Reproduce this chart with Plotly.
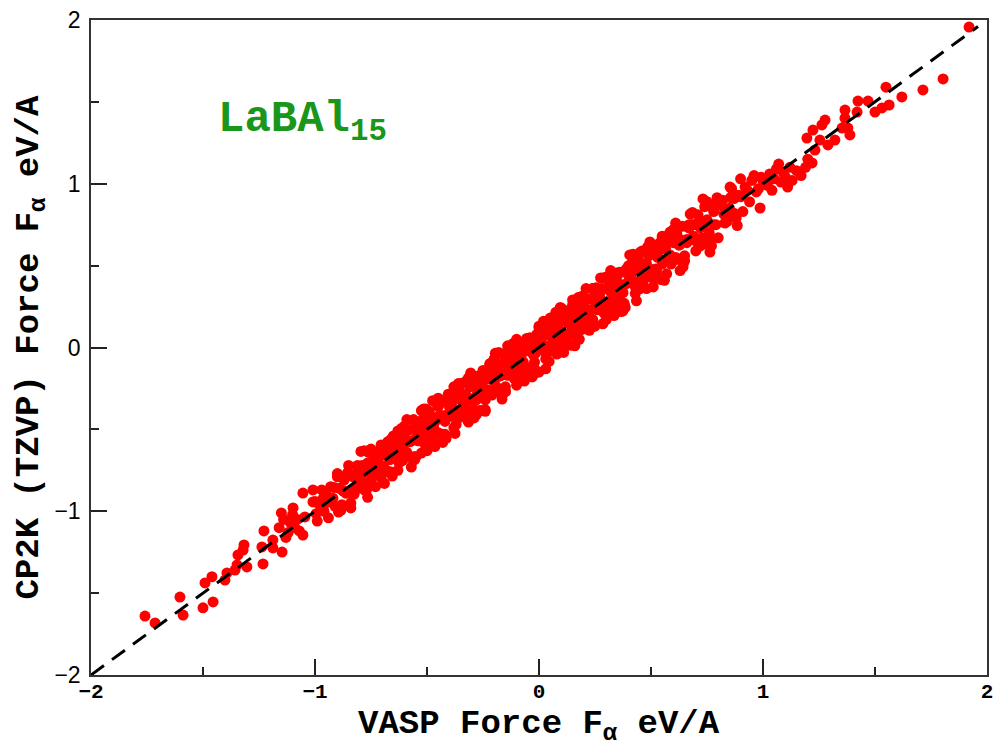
import plotly.graph_objects as go

# lower tail, VASP vs CP2K forces (eV/A)
vasp_low = [-1.759, -1.714, -1.603, -1.589, -1.500, -1.455, -1.491, -1.460, -1.402, -1.393,
            -1.357, -1.348, -1.304, -1.344, -1.321, -1.317, -1.237, -1.232, -1.228, -1.188,
            -1.188, -1.147, -1.098, -1.054, -1.054, -1.009, -1.009, -1.045, -1.16, -1.14,
            -1.12, -1.11, -1.10, -1.13, -1.09, -1.08, -1.15, -1.07]
cp2k_low = [-1.640, -1.682, -1.524, -1.634, -1.590, -1.554, -1.438, -1.400, -1.420, -1.377,
            -1.359, -1.328, -1.340, -1.267, -1.237, -1.206, -1.218, -1.322, -1.120, -1.224,
            -1.176, -1.249, -0.980, -1.145, -0.889, -0.870, -0.943, -1.035, -1.10, -1.05,
            -1.13, -1.07, -1.02, -1.16, -1.10, -1.05, -1.01, -1.12]

# -1.0 .. -0.6
vasp_a = [-1.00, -0.99, -0.98, -0.97, -0.96, -0.95, -0.94, -0.93, -0.92, -0.91,
          -0.90, -0.89, -0.88, -0.87, -0.86, -0.85, -0.84, -0.83, -0.82, -0.81,
          -0.80, -0.79, -0.78, -0.77, -0.76, -0.75, -0.74, -0.73, -0.72, -0.71,
          -0.70, -0.69, -0.68, -0.67, -0.66, -0.65, -0.64, -0.63, -0.62, -0.61,
          -0.995, -0.965, -0.945, -0.915, -0.895, -0.875, -0.845, -0.825, -0.805, -0.785,
          -0.765, -0.745, -0.725, -0.705, -0.685, -0.665, -0.645, -0.625, -0.605]
cp2k_a = [-0.94, -1.06, -0.96, -0.87, -1.00, -0.90, -1.04, -0.85, -0.92, -0.97,
          -0.79, -0.86, -0.96, -0.81, -0.89, -0.72, -0.95, -0.79, -0.87, -0.72,
          -0.82, -0.72, -0.87, -0.76, -0.64, -0.81, -0.69, -0.85, -0.69, -0.75,
          -0.60, -0.76, -0.66, -0.59, -0.76, -0.61, -0.67, -0.51, -0.68, -0.55,
          -1.015, -0.925, -0.945, -0.855, -1.005, -0.875, -0.775, -0.895, -0.775, -0.825,
          -0.705, -0.755, -0.645, -0.795, -0.635, -0.685, -0.555, -0.705, -0.595]

# dense core -0.6 .. 0.6
vasp_b = [-0.60, -0.58, -0.56, -0.54, -0.52, -0.50, -0.48, -0.46, -0.44, -0.42,
          -0.40, -0.38, -0.36, -0.34, -0.32, -0.30, -0.28, -0.26, -0.24, -0.22,
          -0.20, -0.18, -0.16, -0.14, -0.12, -0.10, -0.08, -0.06, -0.04, -0.02,
          0.00, 0.02, 0.04, 0.06, 0.08, 0.10, 0.12, 0.14, 0.16, 0.18,
          0.20, 0.22, 0.24, 0.26, 0.28, 0.30, 0.32, 0.34, 0.36, 0.38,
          0.40, 0.42, 0.44, 0.46, 0.48, 0.50, 0.52, 0.54, 0.56, 0.58,
          -0.59, -0.57, -0.55, -0.53, -0.51, -0.49, -0.47, -0.45, -0.43, -0.41,
          -0.39, -0.37, -0.35, -0.33, -0.31, -0.29, -0.27, -0.25, -0.23, -0.21,
          -0.19, -0.17, -0.15, -0.13, -0.11, -0.09, -0.07, -0.05, -0.03, -0.01,
          0.01, 0.03, 0.05, 0.07, 0.09, 0.11, 0.13, 0.15, 0.17, 0.19,
          0.21, 0.23, 0.25, 0.27, 0.29, 0.31, 0.33, 0.35, 0.37, 0.39,
          0.41, 0.43, 0.45, 0.47, 0.49, 0.51, 0.53, 0.55, 0.57, 0.59,
          -0.505, -0.465, -0.425, -0.385, -0.345, -0.305, -0.265, -0.225, -0.185, -0.145,
          -0.105, -0.065, -0.025, 0.015, 0.055, 0.095, 0.135, 0.175, 0.215, 0.255,
          0.295, 0.335, 0.375, 0.415, 0.455, 0.495]
cp2k_b = [-0.55, -0.67, -0.44, -0.57, -0.44, -0.63, -0.46, -0.52, -0.34, -0.53,
          -0.36, -0.24, -0.43, -0.33, -0.44, -0.21, -0.32, -0.20, -0.39, -0.11,
          -0.15, -0.27, -0.04, -0.17, -0.04, -0.23, -0.06, -0.12, 0.06, -0.13,
          0.04, 0.16, -0.03, 0.07, -0.04, 0.19, 0.08, 0.20, 0.01, 0.29,
          0.25, 0.13, 0.36, 0.23, 0.36, 0.17, 0.34, 0.28, 0.46, 0.27,
          0.44, 0.56, 0.37, 0.47, 0.36, 0.59, 0.48, 0.60, 0.41, 0.69,
          -0.64, -0.50, -0.56, -0.50, -0.59, -0.43, -0.49, -0.36, -0.53, -0.41,
          -0.34, -0.43, -0.32, -0.36, -0.24, -0.38, -0.25, -0.29, -0.15, -0.28,
          -0.24, -0.10, -0.16, -0.10, -0.19, -0.03, -0.09, 0.04, -0.13, -0.01,
          0.06, -0.03, 0.08, 0.04, 0.16, 0.02, 0.15, 0.11, 0.25, 0.12,
          0.16, 0.30, 0.24, 0.30, 0.21, 0.37, 0.31, 0.44, 0.27, 0.39,
          0.46, 0.37, 0.48, 0.44, 0.56, 0.42, 0.55, 0.51, 0.65, 0.52,
          -0.375, -0.605, -0.425, -0.285, -0.395, -0.155, -0.385, -0.185, -0.265, -0.035,
          0.025, -0.205, -0.025, 0.115, 0.005, 0.245, 0.015, 0.215, 0.135, 0.365,
          0.425, 0.195, 0.375, 0.515, 0.405, 0.645]

# more of the band -0.9 .. 0.9
vasp_d = [-0.90, -0.87, -0.84, -0.81, -0.78, -0.75, -0.72, -0.69, -0.66, -0.63,
          -0.60, -0.57, -0.54, -0.51, -0.48, -0.45, -0.42, -0.39, -0.36, -0.33,
          -0.30, -0.27, -0.24, -0.21, -0.18, -0.15, -0.12, -0.09, -0.06, -0.03,
          0.00, 0.03, 0.06, 0.09, 0.12, 0.15, 0.18, 0.21, 0.24, 0.27,
          0.30, 0.33, 0.36, 0.39, 0.42, 0.45, 0.48, 0.51, 0.54, 0.57,
          0.60, 0.63, 0.66, 0.69, 0.72, 0.75, 0.78, 0.81, 0.84, 0.87, 0.90,
          -0.885, -0.855, -0.825, -0.795, -0.765, -0.735, -0.705, -0.675, -0.645, -0.615,
          -0.585, -0.555, -0.525, -0.495, -0.465, -0.435, -0.405, -0.375, -0.345, -0.315,
          -0.285, -0.255, -0.225, -0.195, -0.165, -0.135, -0.105, -0.075, -0.045, -0.015,
          0.015, 0.045, 0.075, 0.105, 0.135, 0.165, 0.195, 0.225, 0.255, 0.285,
          0.315, 0.345, 0.375, 0.405, 0.435, 0.465, 0.495, 0.525, 0.555, 0.585,
          0.615, 0.645, 0.675, 0.705, 0.735, 0.765, 0.795, 0.825, 0.855, 0.885]
cp2k_d = [-0.77, -0.88, -0.98, -0.74, -0.63, -0.84, -0.69, -0.74, -0.56, -0.75,
          -0.48, -0.73, -0.54, -0.45, -0.58, -0.31, -0.45, -0.31, -0.43, -0.29,
          -0.17, -0.28, -0.38, -0.14, -0.03, -0.24, -0.09, -0.14, 0.04, -0.15,
          0.12, -0.13, 0.06, 0.15, 0.02, 0.29, 0.15, 0.29, 0.17, 0.31,
          0.43, 0.32, 0.22, 0.46, 0.57, 0.36, 0.51, 0.46, 0.64, 0.45,
          0.72, 0.47, 0.66, 0.75, 0.62, 0.89, 0.75, 0.89, 0.77, 0.91, 1.03,
          -0.995, -0.765, -0.865, -0.635, -0.915, -0.715, -0.595, -0.755, -0.595, -0.635,
          -0.505, -0.685, -0.385, -0.555, -0.455, -0.535, -0.285, -0.385, -0.285, -0.455,
          -0.395, -0.165, -0.265, -0.035, -0.315, -0.115, 0.005, -0.155, 0.005, -0.035,
          0.095, -0.085, 0.215, 0.045, 0.145, 0.065, 0.315, 0.215, 0.315, 0.145,
          0.205, 0.435, 0.335, 0.565, 0.285, 0.485, 0.605, 0.445, 0.605, 0.565,
          0.695, 0.515, 0.815, 0.645, 0.745, 0.665, 0.915, 0.815, 0.915, 0.745]

# densest part -0.55 .. 0.55
vasp_e = [-0.550, -0.525, -0.500, -0.475, -0.450, -0.425, -0.400, -0.375, -0.350, -0.325,
          -0.300, -0.275, -0.250, -0.225, -0.200, -0.175, -0.150, -0.125, -0.100, -0.075,
          -0.050, -0.025, 0.000, 0.025, 0.050, 0.075, 0.100, 0.125, 0.150, 0.175,
          0.200, 0.225, 0.250, 0.275, 0.300, 0.325, 0.350, 0.375, 0.400, 0.425,
          0.450, 0.475, 0.500, 0.525, 0.550]
cp2k_e = [-0.480, -0.645, -0.470, -0.325, -0.520, -0.325, -0.420, -0.525, -0.300, -0.205,
          -0.390, -0.275, -0.160, -0.275, -0.070, -0.105, -0.270, -0.095, 0.050, -0.145,
          0.050, -0.045, -0.150, 0.075, 0.170, -0.015, 0.100, 0.215, 0.100, 0.305,
          0.270, 0.105, 0.280, 0.425, 0.230, 0.425, 0.330, 0.225, 0.450, 0.545,
          0.360, 0.475, 0.590, 0.475, 0.680]

# -0.8 .. 0.8 once more
vasp_f = [-0.79, -0.77, -0.75, -0.73, -0.71, -0.69, -0.67, -0.65, -0.63, -0.61,
          -0.59, -0.57, -0.55, -0.53, -0.51, -0.49, -0.47, -0.45, -0.43, -0.41,
          -0.39, -0.37, -0.35, -0.33, -0.31, -0.29, -0.27, -0.25, -0.23, -0.21,
          -0.19, -0.17, -0.15, -0.13, -0.11, -0.09, -0.07, -0.05, -0.03, -0.01,
          0.01, 0.03, 0.05, 0.07, 0.09, 0.11, 0.13, 0.15, 0.17, 0.19,
          0.21, 0.23, 0.25, 0.27, 0.29, 0.31, 0.33, 0.35, 0.37, 0.39,
          0.41, 0.43, 0.45, 0.47, 0.49, 0.51, 0.53, 0.55, 0.57, 0.59,
          0.61, 0.63, 0.65, 0.67, 0.69, 0.71, 0.73, 0.75, 0.77, 0.79]
cp2k_f = [-0.77, -0.87, -0.62, -0.78, -0.63, -0.83, -0.62, -0.54, -0.66, -0.69,
          -0.44, -0.57, -0.67, -0.47, -0.52, -0.39, -0.53, -0.42, -0.58, -0.32,
          -0.37, -0.47, -0.22, -0.38, -0.23, -0.43, -0.22, -0.14, -0.26, -0.29,
          -0.04, -0.17, -0.27, -0.07, -0.12, 0.01, -0.13, -0.02, -0.18, 0.08,
          0.03, -0.07, 0.18, 0.02, 0.17, -0.03, 0.18, 0.26, 0.14, 0.11,
          0.36, 0.23, 0.13, 0.33, 0.28, 0.41, 0.27, 0.38, 0.22, 0.48,
          0.43, 0.33, 0.58, 0.42, 0.57, 0.37, 0.58, 0.66, 0.54, 0.51,
          0.76, 0.63, 0.53, 0.73, 0.68, 0.81, 0.67, 0.78, 0.62, 0.88]

# -0.7 .. 0.7 filler between the passes above
vasp_g = [-0.695, -0.675, -0.655, -0.635, -0.615, -0.595, -0.575, -0.555, -0.535, -0.515,
          -0.495, -0.475, -0.455, -0.435, -0.415, -0.395, -0.375, -0.355, -0.335, -0.315,
          -0.295, -0.275, -0.255, -0.235, -0.215, -0.195, -0.175, -0.155, -0.135, -0.115,
          -0.095, -0.075, -0.055, -0.035, -0.015, 0.005, 0.025, 0.045, 0.065, 0.085,
          0.105, 0.125, 0.145, 0.165, 0.185, 0.205, 0.225, 0.245, 0.265, 0.285,
          0.305, 0.325, 0.345, 0.365, 0.385, 0.405, 0.425, 0.445, 0.465, 0.485,
          0.505, 0.525, 0.545, 0.565, 0.585, 0.605, 0.625, 0.645, 0.665, 0.685, 0.705]
cp2k_g = [-0.725, -0.575, -0.785, -0.595, -0.495, -0.665, -0.575, -0.665, -0.465, -0.375,
          -0.535, -0.565, -0.345, -0.415, -0.555, -0.335, -0.395, -0.265, -0.395, -0.185,
          -0.325, -0.175, -0.385, -0.195, -0.095, -0.265, -0.175, -0.265, -0.065, 0.025,
          -0.135, -0.165, 0.055, -0.015, -0.155, 0.065, 0.005, 0.135, 0.005, 0.215,
          0.075, 0.225, 0.015, 0.205, 0.305, 0.135, 0.225, 0.135, 0.335, 0.425,
          0.265, 0.235, 0.455, 0.385, 0.245, 0.465, 0.405, 0.535, 0.405, 0.615,
          0.475, 0.625, 0.415, 0.605, 0.705, 0.535, 0.625, 0.535, 0.735, 0.825, 0.665]

# -0.45 .. 0.45, the thickest stretch
vasp_h = [-0.44, -0.42, -0.40, -0.38, -0.36, -0.34, -0.32, -0.30, -0.28, -0.26,
          -0.24, -0.22, -0.20, -0.18, -0.16, -0.14, -0.12, -0.10, -0.08, -0.06,
          -0.04, -0.02, 0.00, 0.02, 0.04, 0.06, 0.08, 0.10, 0.12, 0.14,
          0.16, 0.18, 0.20, 0.22, 0.24, 0.26, 0.28, 0.30, 0.32, 0.34,
          0.36, 0.38, 0.40, 0.42, 0.44, 0.46]
cp2k_h = [-0.33, -0.45, -0.34, -0.49, -0.22, -0.40, -0.30, -0.21, -0.41, -0.22,
          -0.32, -0.10, -0.21, -0.11, -0.26, 0.01, -0.16, -0.09, -0.20, 0.04,
          0.01, -0.09, 0.13, 0.13, 0.01, 0.12, -0.03, 0.24, 0.06, 0.16,
          0.25, 0.05, 0.24, 0.14, 0.36, 0.25, 0.35, 0.20, 0.47, 0.30,
          0.37, 0.26, 0.50, 0.47, 0.37, 0.59]

# 0.6 .. 1.0
vasp_c = [0.60, 0.62, 0.64, 0.66, 0.68, 0.70, 0.72, 0.74, 0.76, 0.78,
          0.80, 0.82, 0.84, 0.86, 0.88, 0.90, 0.92, 0.94, 0.96, 0.98,
          0.61, 0.63, 0.65, 0.67, 0.69, 0.71, 0.73, 0.75, 0.77, 0.79,
          0.81, 0.83, 0.85, 0.87, 0.89, 0.91, 0.93, 0.95, 0.97, 0.99,
          0.732, 0.853, 0.763, 0.643, 0.987]
cp2k_c = [0.64, 0.54, 0.74, 0.64, 0.75, 0.59, 0.73, 0.86, 0.70, 0.83,
          0.67, 0.90, 0.81, 0.97, 0.79, 0.92, 0.98, 0.89, 1.05, 0.97,
          0.55, 0.66, 0.56, 0.75, 0.66, 0.76, 0.63, 0.77, 0.86, 0.75,
          0.87, 0.76, 0.85, 0.82, 0.93, 0.83, 0.96, 1.02, 0.95, 1.04,
          0.907, 0.980, 0.583, 0.492, 0.852]

# upper tail
vasp_high = [1.00, 1.02, 1.03, 1.05, 1.06, 1.08, 1.09, 1.10, 1.12, 1.13,
             1.15, 1.17, 1.11, 1.04, 1.07, 1.219, 1.20, 1.19, 1.196, 1.223,
             1.232, 1.254, 1.263, 1.277, 1.290, 1.321, 1.353, 1.379, 1.388, 1.366,
             1.366, 1.420, 1.424, 1.469, 1.500, 1.531, 1.563, 1.549, 1.620, 1.714,
             1.804, 1.920]
cp2k_high = [1.02, 0.99, 1.06, 1.03, 1.09, 1.01, 1.07, 1.04, 1.10, 1.02,
             1.08, 1.05, 0.98, 0.96, 1.12, 1.127, 1.15, 1.10, 1.279, 1.328,
             1.206, 1.267, 1.359, 1.389, 1.237, 1.267, 1.340, 1.340, 1.298, 1.450,
             1.400, 1.438, 1.505, 1.505, 1.438, 1.463, 1.481, 1.590, 1.530, 1.573,
             1.640, 1.957]

vasp = vasp_low + vasp_a + vasp_b + vasp_d + vasp_e + vasp_f + vasp_g + vasp_h + vasp_c + vasp_high
cp2k = cp2k_low + cp2k_a + cp2k_b + cp2k_d + cp2k_e + cp2k_f + cp2k_g + cp2k_h + cp2k_c + cp2k_high

# y = x reference
ref_line = [-2.0, 1.96]

mono = "Liberation Mono"

fig = go.Figure()
fig.add_trace(go.Scatter(x=vasp, y=cp2k, mode="markers",
                         marker=dict(color="#ff0000", size=11, line=dict(width=0)),
                         showlegend=False))
fig.add_trace(go.Scatter(x=ref_line, y=ref_line, mode="lines",
                         line=dict(color="black", width=3, dash="16px,10px"),
                         showlegend=False))

fig.update_layout(
    width=996, height=747,
    margin=dict(l=91, r=9, t=20, b=72, autoexpand=False),
    plot_bgcolor="white", paper_bgcolor="white",
    xaxis=dict(range=[-2, 2], tickvals=[-2, -1, 0, 1, 2], ticktext=["\u22122", "\u22121", "0", "1", "2"],
               ticks="inside", ticklen=16, tickwidth=1.5, tickcolor="#222",
               minor=dict(tickvals=[-1.5, -0.5, 0.5, 1.5], ticks="inside", ticklen=8, tickwidth=1.5, tickcolor="#222"),
               showline=True, linecolor="#333", linewidth=1.5, mirror=True,
               showgrid=False, zeroline=False, ticklabelstandoff=-4,
               tickfont=dict(family=mono, size=21, color="black", weight="bold")),
    yaxis=dict(range=[-2, 2], tickvals=[-2, -1, 0, 1, 2], ticktext=["\u22122", "\u22121", "0", "1", "2"],
               ticks="inside", ticklen=16, tickwidth=1.5, tickcolor="#222",
               minor=dict(tickvals=[-1.5, -0.5, 0.5, 1.5], ticks="inside", ticklen=8, tickwidth=1.5, tickcolor="#222"),
               showline=True, linecolor="#333", linewidth=1.5, mirror=True,
               showgrid=False, zeroline=False, ticklabelstandoff=4,
               tickfont=dict(family="Liberation Sans", size=23, color="black")),
)

fig.add_annotation(xref="paper", yref="paper", x=0.5, y=-0.045, yanchor="top", borderpad=0,
                   text="VASP Force F<sub>\u03b1</sub> eV/A", showarrow=False,
                   font=dict(family=mono, size=34, color="black", weight="bold"))
fig.add_annotation(xref="paper", yref="paper", x=-0.068, y=0.5, xanchor="center",
                   textangle=-90, text="CP2K (TZVP) Force F<sub>\u03b1</sub> eV/A", showarrow=False,
                   font=dict(family=mono, size=34, color="black", weight="bold"))
fig.add_annotation(xref="x", yref="y", x=-1.44, y=1.38, xanchor="left",
                   text="LaBAl<sub>15</sub>", showarrow=False,
                   font=dict(family=mono, size=44, color="#1a961a", weight="bold"))

# page body has a default 8px margin; drop it so the figure sits at the window origin
fig.write_html("out.html", config={"displayModeBar": False},
               post_script="document.body.style.margin='0px';")
